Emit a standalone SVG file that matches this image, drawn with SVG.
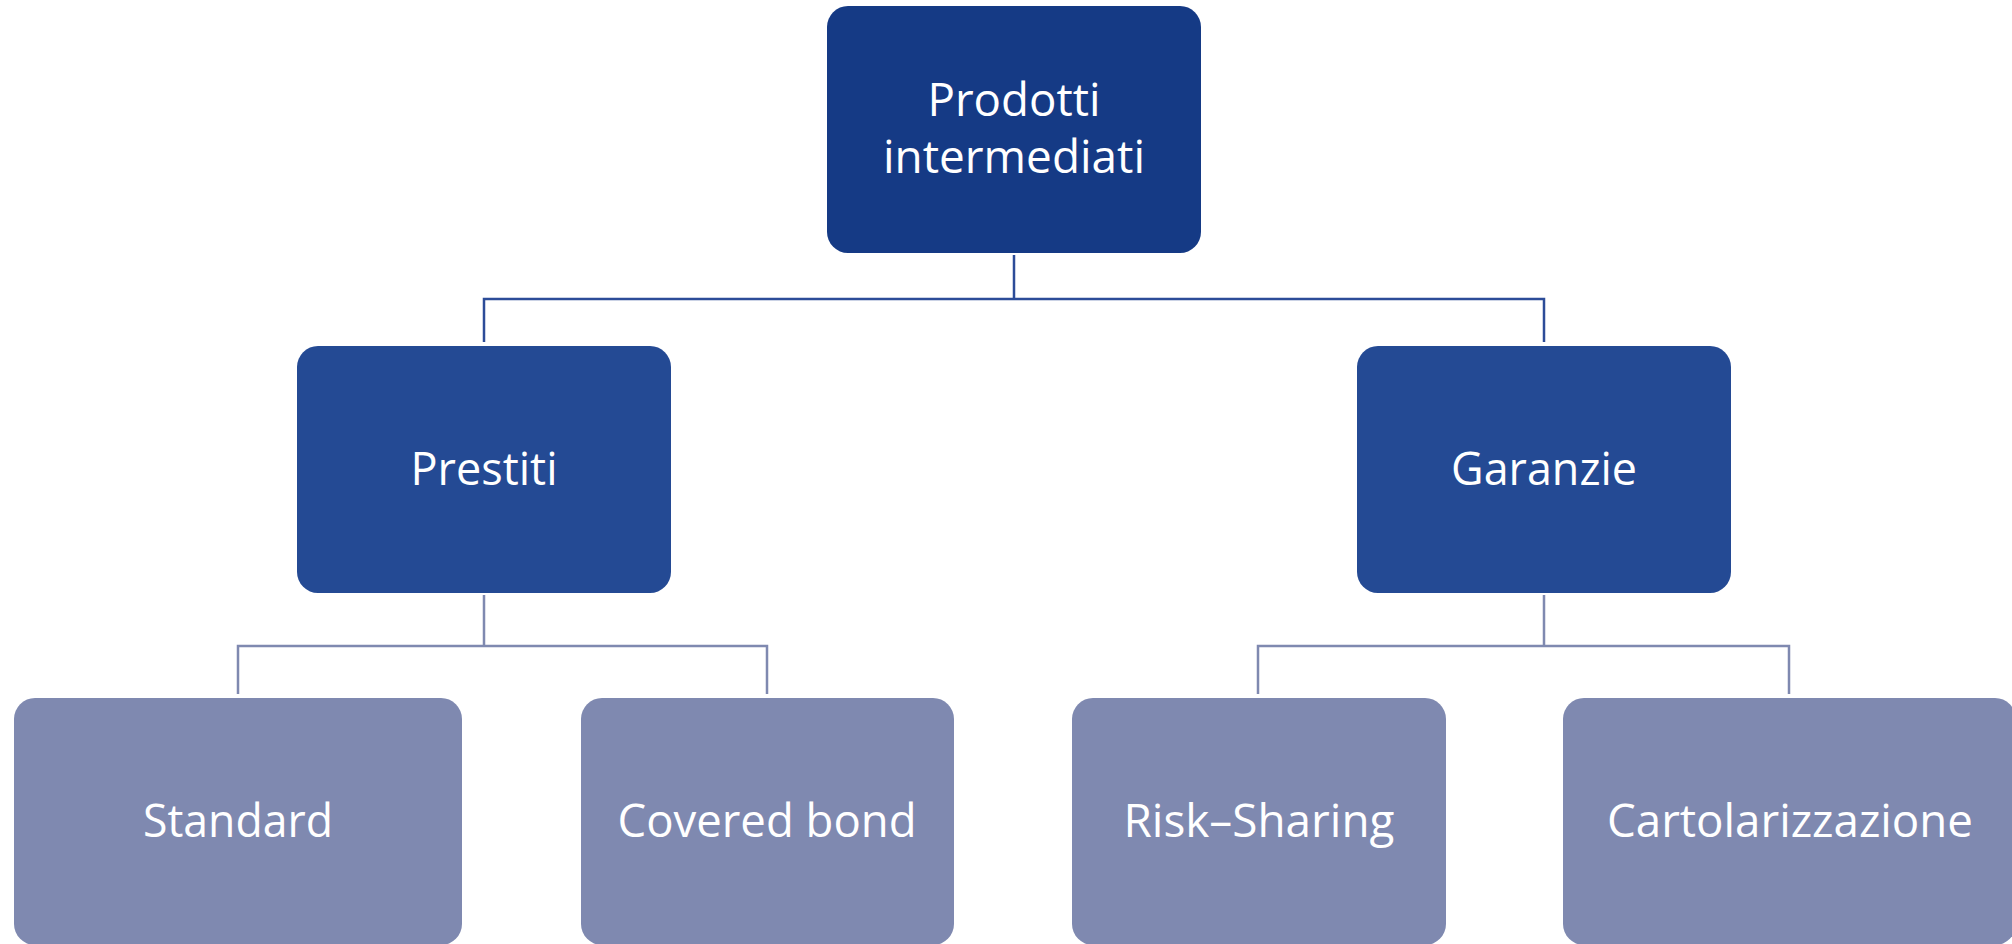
<svg xmlns="http://www.w3.org/2000/svg" width="2012" height="944" viewBox="0 0 2012 944">
<style>
.l0{fill:#153a85}
.l1{fill:#244a94}
.l2{fill:#7f89b0}
text{font-family:"Open Sans","Noto Sans","Liberation Sans",sans-serif;font-size:46px;fill:#ffffff;text-anchor:middle}
.c1{stroke:#2c4c98;stroke-width:2.5;fill:none}
.c2{stroke:#7f89b0;stroke-width:2.5;fill:none}
</style>
<rect width="2012" height="944" fill="#ffffff"/>
<g id="connectors">
<path class="c1" d="M1014 255V299M484 342V299H1544V342"/>
<path class="c2" d="M484 595V646M238 694V646H767V694"/>
<path class="c2" d="M1544 595V646M1258 694V646H1789V694"/>
</g>
<g id="node-prodotti">
<rect class="l0" x="827" y="6" width="374" height="247" rx="21"/>
<text x="1014" y="116" textLength="173" lengthAdjust="spacingAndGlyphs">Prodotti</text>
<text x="1014" y="173" textLength="262" lengthAdjust="spacingAndGlyphs">intermediati</text>
</g>
<g id="node-prestiti">
<rect class="l1" x="297" y="346" width="374" height="247" rx="21"/>
<text x="484" y="485" textLength="147" lengthAdjust="spacingAndGlyphs">Prestiti</text>
</g>
<g id="node-garanzie">
<rect class="l1" x="1357" y="346" width="374" height="247" rx="21"/>
<text x="1544" y="485" textLength="186" lengthAdjust="spacingAndGlyphs">Garanzie</text>
</g>
<g id="node-standard">
<rect class="l2" x="14" y="698" width="448" height="247" rx="21"/>
<text x="238" y="837" textLength="190" lengthAdjust="spacingAndGlyphs">Standard</text>
</g>
<g id="node-covered">
<rect class="l2" x="581" y="698" width="373" height="247" rx="21"/>
<text x="767" y="837" textLength="299" lengthAdjust="spacingAndGlyphs">Covered bond</text>
</g>
<g id="node-risk">
<rect class="l2" x="1072" y="698" width="374" height="247" rx="21"/>
<text x="1259" y="837" textLength="271" lengthAdjust="spacingAndGlyphs">Risk–Sharing</text>
</g>
<g id="node-cartolarizzazione">
<rect class="l2" x="1563" y="698" width="453" height="247" rx="21"/>
<text x="1790" y="837" textLength="366" lengthAdjust="spacingAndGlyphs">Cartolarizzazione</text>
</g>
</svg>
